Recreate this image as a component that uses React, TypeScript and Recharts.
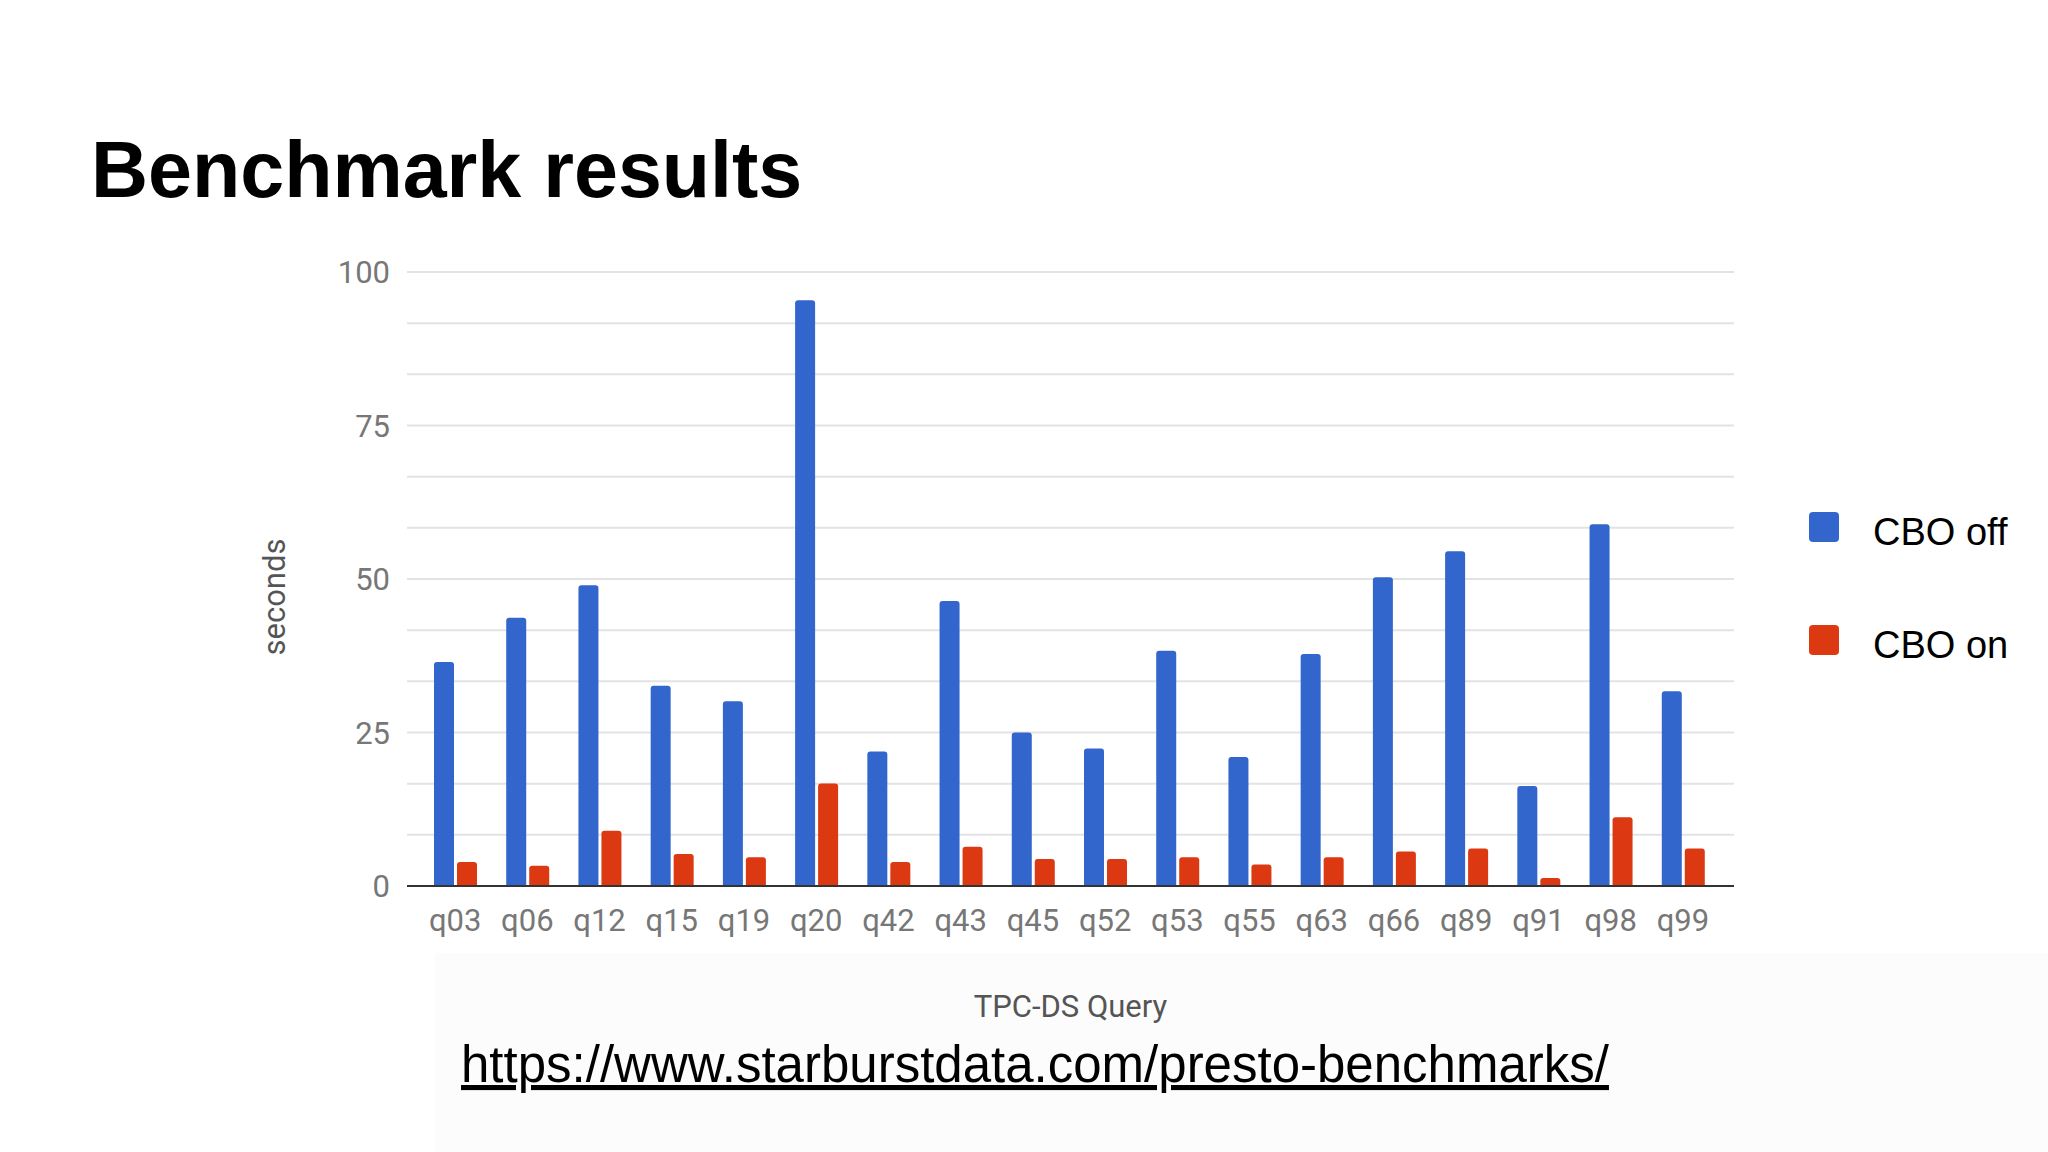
import {
  BarChart,
  Bar,
  XAxis,
  YAxis,
  CartesianGrid,
  Legend,
  Label,
} from "recharts";

const categories = [
  "q03", "q06", "q12", "q15", "q19", "q20", "q42", "q43", "q45",
  "q52", "q53", "q55", "q63", "q66", "q89", "q91", "q98", "q99",
];
const cboOff = [
  36.5, 43.7, 49.0, 32.6, 30.1, 95.4, 21.9, 46.4, 25.0,
  22.4, 38.3, 21.0, 37.8, 50.3, 54.5, 16.3, 58.9, 31.7,
];
const cboOn = [
  3.9, 3.3, 9.0, 5.2, 4.7, 16.7, 3.9, 6.4, 4.4,
  4.4, 4.7, 3.5, 4.7, 5.6, 6.1, 1.3, 11.2, 6.1,
];
const yTicks = [0, 25, 50, 75, 100];
const gridLines = [
  0, 8.33, 16.67, 25, 33.33, 41.67, 50, 58.33, 66.67, 75, 83.33, 91.67, 100,
];

const data = categories.map((query, i) => ({
  query,
  off: cboOff[i],
  on: cboOn[i],
}));

const tickStyle = { fontFamily: "Roboto", fontSize: 31, fill: "#777777" };

// legend box is 239 wide; recharts reserves that on the right
const LEGEND_W = 239;

function LegendBox({ payload }: any) {
  return (
    <div>
      {(payload || []).map((item: any) => (
        <div
          key={item.value}
          style={{ display: "flex", alignItems: "center", height: 30, marginBottom: 83 }}
        >
          <div
            style={{
              width: 30,
              height: 30,
              borderRadius: 4,
              background: item.color,
            }}
          />
          <span
            style={{
              marginLeft: 34,
              fontFamily: "'Liberation Sans', Arial, sans-serif",
              fontSize: 38,
              lineHeight: "30px",
              color: "#000",
              position: "relative",
              top: 5,
              whiteSpace: "nowrap",
            }}
          >
            {item.value}
          </span>
        </div>
      ))}
    </div>
  );
}

export default function App() {
  return (
    <div
      style={{
        position: "absolute",
        left: 0,
        top: 0,
        width: 2048,
        height: 1152,
        background: "#fff",
        overflow: "hidden",
      }}
    >
      <div
        style={{
          position: "absolute",
          left: 435,
          top: 953,
          width: 1613,
          height: 199,
          background: "#fcfcfd",
        }}
      />
      <BarChart
        width={2048}
        height={1152}
        data={data}
        barSize={20}
        barGap={3}
        margin={{ top: 272, right: 314 - LEGEND_W, bottom: 206, left: 347 }}
        style={{ position: "absolute", left: 0, top: 0 }}
      >
        <CartesianGrid
          vertical={false}
          horizontalValues={gridLines}
          stroke="#e3e3e3"
          strokeWidth={2}
        />
        <XAxis
          dataKey="query"
          height={60}
          padding={{ left: 12, right: 15 }}
          axisLine={{ stroke: "#333333", strokeWidth: 2 }}
          tickLine={false}
          tickSize={0}
          tickMargin={23}
          interval={0}
          tick={tickStyle}
        >
          <Label
            content={({ viewBox }: any) => (
              <text
                x={viewBox.x + viewBox.width / 2}
                y={1017}
                textAnchor="middle"
                fontFamily="Roboto"
                fontSize={31}
                fill="#555555"
              >
                TPC-DS Query
              </text>
            )}
          />
        </XAxis>
        <YAxis
          width={60}
          domain={[0, 100]}
          ticks={yTicks}
          axisLine={false}
          tickLine={false}
          tickSize={0}
          tickMargin={17}
          tick={tickStyle}
        >
          <Label
            content={() => (
              <text
                x={285}
                y={597}
                transform="rotate(-90, 285, 597)"
                textAnchor="middle"
                fontFamily="Roboto"
                fontSize={31}
                fill="#555555"
              >
                seconds
              </text>
            )}
          />
        </YAxis>
        <Legend
          layout="horizontal"
          verticalAlign="middle"
          align="right"
          content={<LegendBox />}
          wrapperStyle={{ position: "absolute", left: 1809, top: 512, width: LEGEND_W }}
        />
        <Bar
          dataKey="off"
          name="CBO off"
          fill="#3366cc"
          radius={[3, 3, 0, 0]}
          isAnimationActive={false}
        />
        <Bar
          dataKey="on"
          name="CBO on"
          fill="#dc3912"
          radius={[3, 3, 0, 0]}
          isAnimationActive={false}
        />
      </BarChart>
      <svg
        width={2048}
        height={1152}
        style={{ position: "absolute", left: 0, top: 0, pointerEvents: "none" }}
      >
        <text
          x={91}
          y={197}
          fontFamily="'Liberation Sans', Arial, sans-serif"
          fontWeight="bold"
          fontSize={79}
          fill="#000"
        >
          Benchmark results
        </text>
        <text
          x={461}
          y={1082}
          fontFamily="'Liberation Sans', Arial, sans-serif"
          fontSize={51}
          fill="#000"
          textDecoration="underline"
        >
          https://www.starburstdata.com/presto-benchmarks/
        </text>
      </svg>
    </div>
  );
}
